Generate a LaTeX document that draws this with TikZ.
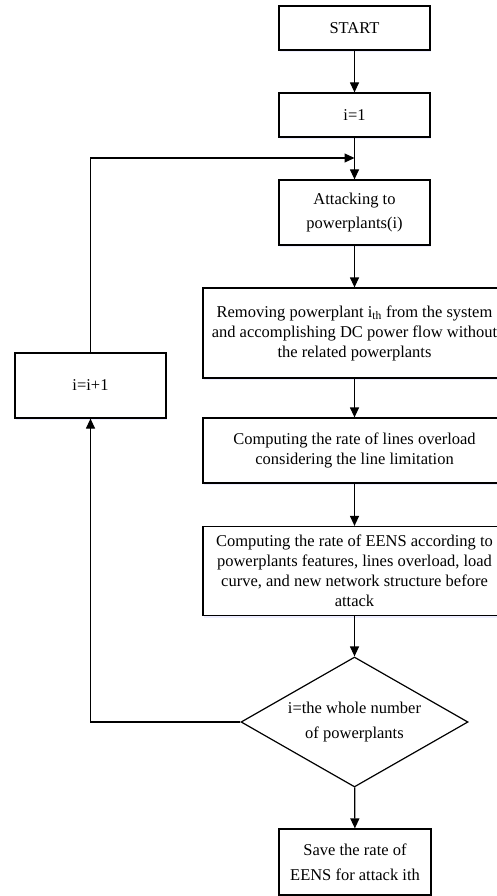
\documentclass[tikz,border=0pt]{standalone}
\usepackage{fontspec}
\setmainfont{Liberation Serif}
\usetikzlibrary{arrows.meta,shapes.geometric,shadows}
\begin{document}
\begin{tikzpicture}[x=1pt,y=1pt,
  box/.style={draw, line width=1.2pt, fill=white, align=center,
    font=\fontsize{16.5}{20}\selectfont, inner sep=0pt,
    drop shadow={shadow xshift=0.6pt, shadow yshift=-2.2pt, fill=blue!14}},
  dia/.style={draw, line width=1.2pt, fill=white, diamond, align=center,
    font=\fontsize{16.5}{25}\selectfont, inner sep=0pt, aspect=1.746},
  arr/.style={line width=1.2pt, -{Triangle[length=10pt,width=9pt]}}]
\clip (0,0) rectangle (497,-896);
\node[box, minimum width=151pt, minimum height=44pt] (start) at (354.5,-28) {START};
\node[box, minimum width=151pt, minimum height=44pt] (i1) at (354.5,-115) {i=1};
\node[box, minimum width=151pt, minimum height=65pt, font=\fontsize{16.5}{24}\selectfont] (attack) at (354.5,-212.5) {Attacking to\\powerplants(i)};
\node[box, minimum width=303pt, minimum height=90pt] (remove) at (354.5,-333) {Removing powerplant i\textsubscript{th} from the system\\and accomplishing DC power flow without\\the related powerplants};
\node[box, minimum width=303pt, minimum height=65pt] (overload) at (354.5,-450.5) {Computing the rate of lines overload\\considering the line limitation};
\node[box, minimum width=303pt, minimum height=89pt] (eens) at (354.5,-571) {Computing the rate of EENS according to\\powerplants features, lines overload, load\\curve, and new network structure before\\attack};
\node[dia, minimum width=227pt, minimum height=130pt] (dec) at (354.5,-722) {i=the whole number\\of powerplants};
\node[box, minimum width=152pt, minimum height=66pt, font=\fontsize{16.5}{25}\selectfont] (save) at (355,-862) {Save the rate of\\EENS for attack ith};
\node[box, minimum width=151pt, minimum height=65pt] (inc) at (90.5,-385.5) {i=i+1};
\coordinate (join) at (354.5,-158);
\draw[arr] (start) -- (i1);
\draw[arr] (i1) -- (attack);
\draw[arr] (attack) -- (remove);
\draw[arr] (remove) -- (overload);
\draw[arr] (overload) -- (eens);
\draw[arr] (eens) -- (dec);
\draw[arr] (dec) -- (save);
\draw[arr] (dec.west) -| (inc.south);
\draw[arr] (inc.north) |- (join);
\end{tikzpicture}
\end{document}
